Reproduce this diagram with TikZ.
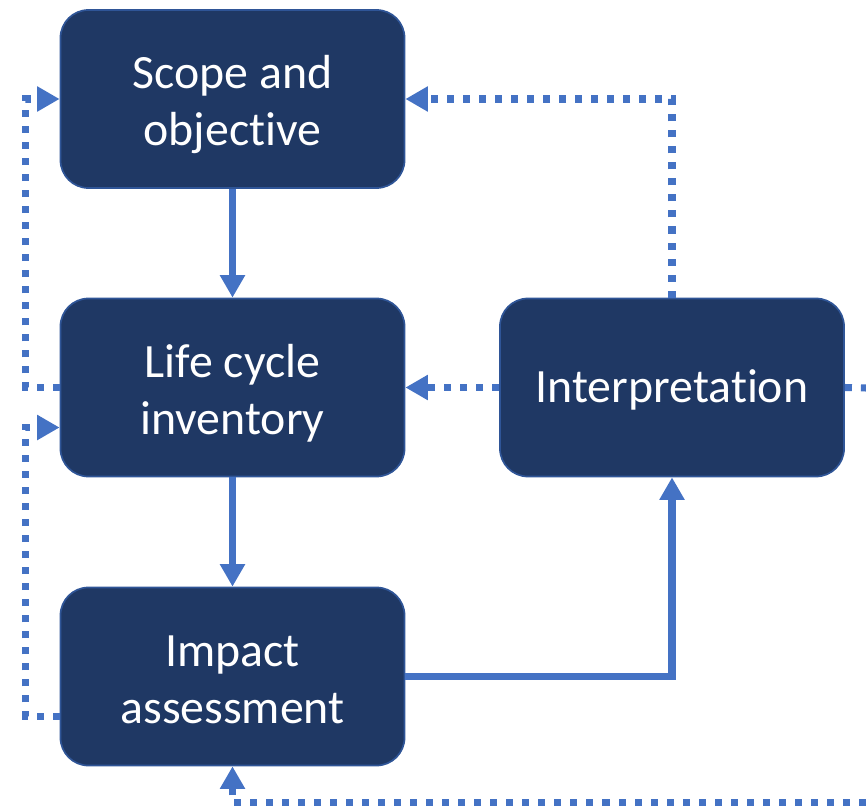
\documentclass[tikz,border=0pt]{standalone}
\usepackage{fontspec}
\setmainfont{Carlito}[Ligatures={NoCommon}]
\usetikzlibrary{arrows.meta}
\definecolor{boxfill}{HTML}{1F3864}
\definecolor{boxline}{HTML}{2F5597}
\definecolor{flow}{HTML}{4472C4}
\begin{document}
\begin{tikzpicture}[x=0.025cm, y=-0.025cm,
	stage/.style={draw=boxline, line width=1.2pt, fill=boxfill, rounded corners=0.7cm,
		minimum width=8.6cm, minimum height=4.45cm, align=center, text=white,
		font=\fontsize{34}{40.5}\selectfont},
	twolines/.style={execute at begin node={\rule[-0.256em]{0pt}{\dimexpr1.28em+40.5pt\relax}}},
	oneline/.style={execute at begin node={\rule[-0.256em]{0pt}{1.156em}}},
	solidflow/.style={draw=flow, line width=5pt, -{Triangle[length=16pt,width=17pt]}},
	dotflow/.style={draw=flow, line width=5pt, dash pattern=on 5pt off 6.4pt}]
		\useasboundingbox (0,0) rectangle (866,806);
		\node[stage,twolines] (scope)at(232.5,99) {Scope and\\objective};
		\node[stage,twolines] (inventory)at(232.5,387.5) {Life cycle\\inventory};
		\node[stage,twolines] (impact)at(232.5,676.5) {Impact\\assessment};
		\node[stage,oneline] (interp)at(672,387.5) {Interpretation};
		\coordinate (rightmid)at(866,388);
		\coordinate (rightlow)at(866,803);
		
		\draw[solidflow] (scope) -- (inventory);
		\draw[solidflow] (inventory) -- (impact);
		\draw[solidflow] (impact.east) -| (interp.south);
		
		\draw[dotflow,-{Triangle[length=16pt,width=17pt]}] (interp.north) |- (scope.east);
		\draw[dotflow,-{Triangle[length=16pt,width=17pt]}] (interp.west) -- (inventory.east);
		\draw[dotflow] (interp.east) -- (rightmid);
		\draw[dotflow,-{Triangle[length=16pt,width=17pt]}] (rightlow) -| (impact.south);
		\draw[dotflow,-{Triangle[length=16pt,width=17pt]}] (inventory.west) -- ++(-34,0) |- (scope.west);
		\draw[dotflow,-{Triangle[length=16pt,width=17pt]}] ([yshift=-1cm]impact.west) -- ++(-34,0) |- ([yshift=-1cm]inventory.west);
	\end{tikzpicture}
\end{document}
